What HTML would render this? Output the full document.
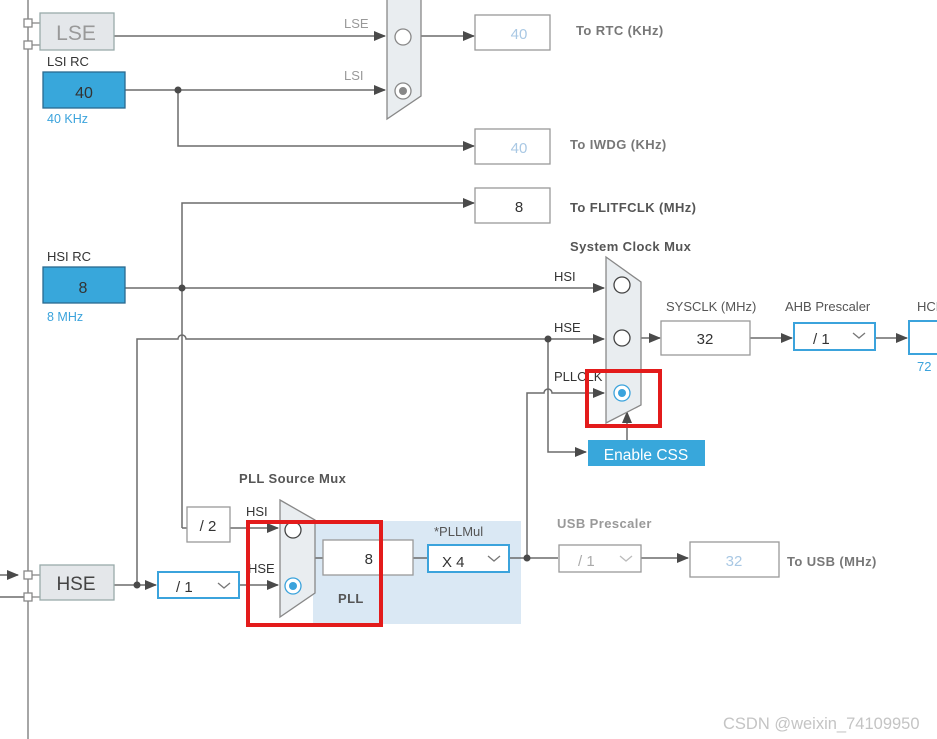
<!DOCTYPE html>
<html><head><meta charset="utf-8"><style>
html,body{margin:0;padding:0;background:#fff;width:937px;height:739px;overflow:hidden}
text{font-family:"Liberation Sans",sans-serif}
</style></head><body>
<svg width="937" height="739" viewBox="0 0 937 739" xmlns="http://www.w3.org/2000/svg">
<defs>
<marker id="a" markerWidth="12" markerHeight="10" refX="11" refY="5" orient="auto" markerUnits="userSpaceOnUse"><path d="M0,0 L12,5 L0,10 Z" fill="#4a4a4a"/></marker>
</defs>
<g fill="none" stroke="#6b6b6b" stroke-width="1.5">
<line x1="28" y1="0" x2="28" y2="739" stroke="#888"/>
<line x1="114" y1="36" x2="385" y2="36" marker-end="url(#a)"/>
<line x1="125" y1="90" x2="385" y2="90" marker-end="url(#a)"/>
<polyline points="178,90 178,146 474,146" marker-end="url(#a)"/>
<line x1="421" y1="36" x2="474" y2="36" marker-end="url(#a)"/>
<polyline points="182,528 182,203 474,203" marker-end="url(#a)"/>
<line x1="182" y1="528" x2="187" y2="528"/>
<line x1="125" y1="288" x2="604" y2="288" marker-end="url(#a)"/>
<path d="M137,585 L137,339 L178,339 A4,4 0 0 1 186,339 L604,339" marker-end="url(#a)"/>
<polyline points="548,339 548,452 586,452" marker-end="url(#a)"/>
<path d="M527,558 L527,393 L544,393 A4,4 0 0 1 552,393 L604,393" marker-end="url(#a)"/>
<line x1="641" y1="338" x2="660" y2="338" marker-end="url(#a)"/>
<line x1="750" y1="338" x2="792" y2="338" marker-end="url(#a)"/>
<line x1="875" y1="338" x2="907" y2="338" marker-end="url(#a)"/>
<line x1="627" y1="440" x2="627" y2="412" marker-end="url(#a)"/>
<line x1="230" y1="528" x2="278" y2="528" marker-end="url(#a)"/>
<line x1="114" y1="585" x2="156" y2="585" marker-end="url(#a)"/>
<line x1="240" y1="585" x2="278" y2="585" marker-end="url(#a)"/>
<line x1="0" y1="597" x2="24" y2="597"/>
<line x1="0" y1="575" x2="18" y2="575" marker-end="url(#a)"/>
<line x1="527" y1="558" x2="558" y2="558"/>
<line x1="641" y1="558" x2="688" y2="558" marker-end="url(#a)"/>
</g>
<rect x="313" y="521" width="208" height="103" fill="#dae8f4"/>
<g fill="none" stroke="#6b6b6b" stroke-width="1.5">
<line x1="315" y1="558" x2="323" y2="558"/>
<line x1="413" y1="558" x2="428" y2="558"/>
<line x1="509" y1="558" x2="527" y2="558"/>
</g>
<g fill="#4a4a4a">
<circle cx="178" cy="90" r="3.5"/><circle cx="182" cy="288" r="3.5"/>
<circle cx="548" cy="339" r="3.5"/><circle cx="137" cy="585" r="3.5"/><circle cx="527" cy="558" r="3.5"/>
</g>
<g fill="#fff" stroke="#888" stroke-width="1.3">
<rect x="24" y="19" width="8" height="8"/><rect x="24" y="41" width="8" height="8"/>
<rect x="24" y="571" width="8" height="8"/><rect x="24" y="593" width="8" height="8"/>
</g>
<g stroke="#888" stroke-width="1.3"><line x1="32" y1="23" x2="40" y2="23"/><line x1="32" y1="45" x2="40" y2="45"/><line x1="32" y1="575" x2="40" y2="575"/><line x1="32" y1="597" x2="40" y2="597"/></g>
<rect x="40" y="13" width="74" height="37" fill="#e4e7ea" stroke="#9aa" stroke-width="1.3"/>
<text x="76" y="40" font-size="21" fill="#999" text-anchor="middle">LSE</text>
<rect x="43" y="72" width="82" height="36" fill="#38a7db" stroke="#2a6a90" stroke-width="1.3"/>
<text x="84" y="98" font-size="16" fill="#333" text-anchor="middle">40</text>
<text x="47" y="66" font-size="13" fill="#333">LSI RC</text>
<text x="47" y="123" font-size="12.5" fill="#3ba3dc">40 KHz</text>
<rect x="43" y="267" width="82" height="36" fill="#38a7db" stroke="#2a6a90" stroke-width="1.3"/>
<text x="83" y="293" font-size="16" fill="#333" text-anchor="middle">8</text>
<text x="47" y="261" font-size="13" fill="#333">HSI RC</text>
<text x="47" y="321" font-size="12.5" fill="#3ba3dc">8 MHz</text>
<rect x="40" y="565" width="74" height="35" fill="#e4e7ea" stroke="#9aa" stroke-width="1.3"/>
<text x="76" y="590" font-size="19" fill="#444" text-anchor="middle">HSE</text>
<g fill="#fff" stroke="#999" stroke-width="1.3">
<rect x="475" y="15" width="75" height="35"/><rect x="475" y="129" width="75" height="35"/><rect x="475" y="188" width="75" height="35"/>
<rect x="661" y="321" width="89" height="34"/><rect x="187" y="507" width="43" height="35"/>
<rect x="323" y="540" width="90" height="35"/><rect x="559" y="545" width="82" height="27"/><rect x="690" y="542" width="89" height="35"/>
</g>
<text x="519" y="39" font-size="15" fill="#a9c8e4" text-anchor="middle">40</text>
<text x="519" y="153" font-size="15" fill="#a9c8e4" text-anchor="middle">40</text>
<text x="519" y="212" font-size="15" fill="#333" text-anchor="middle">8</text>
<text x="705" y="344" font-size="15" fill="#333" text-anchor="middle">32</text>
<text x="208" y="531" font-size="15" fill="#333" text-anchor="middle">/ 2</text>
<text x="373" y="564" font-size="15" fill="#333" text-anchor="end">8</text>
<text x="734" y="566" font-size="15" fill="#a9c8e4" text-anchor="middle">32</text>
<text x="578" y="566" font-size="15" fill="#aaa">/ 1</text>
<path d="M620,556 l6,5 l6,-5" fill="none" stroke="#bbb" stroke-width="1.3"/>
<g fill="#fff" stroke="#3ba3dc" stroke-width="2">
<rect x="794" y="323" width="81" height="27"/><rect x="909" y="321" width="40" height="33"/>
<rect x="158" y="572" width="81" height="26"/><rect x="428" y="545" width="81" height="27"/>
</g>
<text x="813" y="344" font-size="15" fill="#333">/ 1</text>
<path d="M853,333 l6,5 l6,-5" fill="none" stroke="#777" stroke-width="1.3"/>
<text x="176" y="592" font-size="15" fill="#333">/ 1</text>
<path d="M218,583 l6,5 l6,-5" fill="none" stroke="#777" stroke-width="1.3"/>
<text x="442" y="567" font-size="15" fill="#333">X 4</text>
<path d="M488,556 l6,5 l6,-5" fill="none" stroke="#777" stroke-width="1.3"/>
<path d="M387,-5 L421,-5 L421,96 L387,119 Z" fill="#e9edf0" stroke="#888" stroke-width="1.3"/>
<circle cx="403" cy="37" r="8" fill="#fff" stroke="#888" stroke-width="1.3"/>
<circle cx="403" cy="91" r="8" fill="#fff" stroke="#888" stroke-width="1.3"/><circle cx="403" cy="91" r="4" fill="#888"/>
<path d="M606,257 L641,282 L641,405 L606,423 Z" fill="#e9edf0" stroke="#888" stroke-width="1.3"/>
<circle cx="622" cy="285" r="8" fill="#fff" stroke="#444" stroke-width="1.3"/>
<circle cx="622" cy="338" r="8" fill="#fff" stroke="#444" stroke-width="1.3"/>
<circle cx="622" cy="393" r="8" fill="#fff" stroke="#3ba3dc" stroke-width="1.3"/><circle cx="622" cy="393" r="4" fill="#3ba3dc"/>
<path d="M280,500 L315,520 L315,593 L280,617 Z" fill="#e9edf0" stroke="#888" stroke-width="1.3"/>
<circle cx="293" cy="530" r="8" fill="#fff" stroke="#444" stroke-width="1.3"/>
<circle cx="293" cy="586" r="8" fill="#fff" stroke="#3ba3dc" stroke-width="1.3"/><circle cx="293" cy="586" r="4" fill="#3ba3dc"/>
<rect x="588" y="440" width="117" height="26" fill="#38a7db"/>
<text x="646" y="460" font-size="15.5" fill="#fff" text-anchor="middle">Enable CSS</text>
<g font-size="13" fill="#999"><text x="344" y="28">LSE</text><text x="344" y="80">LSI</text></g>
<g font-size="13" fill="#333"><text x="554" y="281">HSI</text><text x="554" y="332">HSE</text><text x="554" y="381">PLLCLK</text>
<text x="246" y="516">HSI</text><text x="248" y="573">HSE</text>
<text x="666" y="311" fill="#555">SYSCLK (MHz)</text><text x="785" y="311" fill="#555">AHB Prescaler</text><text x="917" y="311" fill="#555">HCLK</text>
<text x="434" y="536" fill="#555">*PLLMul</text></g>
<text x="917" y="371" font-size="13" fill="#3ba3dc">72</text>
<g font-size="13" font-weight="bold" fill="#777" letter-spacing="0.4">
<text x="576" y="35">To RTC (KHz)</text><text x="570" y="149">To IWDG (KHz)</text>
<text x="570" y="212" fill="#555">To FLITFCLK (MHz)</text>
<text x="570" y="251" fill="#555">System Clock Mux</text>
<text x="239" y="483" fill="#555">PLL Source Mux</text>
<text x="557" y="528" fill="#999">USB Prescaler</text>
<text x="787" y="566">To USB (MHz)</text>
<text x="338" y="603" fill="#555">PLL</text>
</g>
<rect x="587" y="371" width="73" height="55" fill="none" stroke="#e31b1b" stroke-width="4"/>
<rect x="248" y="522" width="133" height="103" fill="none" stroke="#e31b1b" stroke-width="4"/>
<text x="723" y="729" font-size="16.5" fill="#c4c4c4">CSDN @weixin_74109950</text>
</svg>
</body></html>
